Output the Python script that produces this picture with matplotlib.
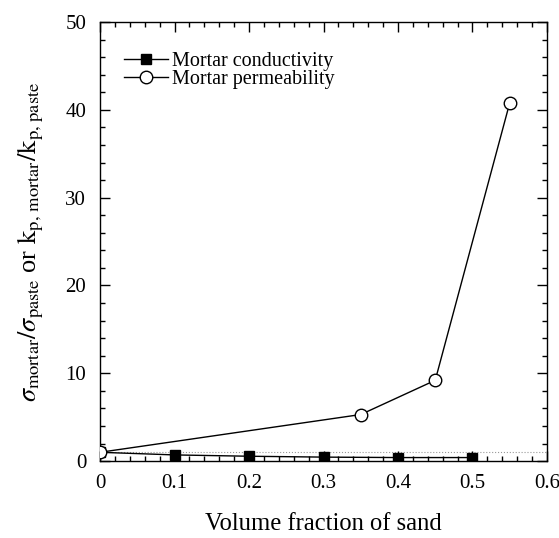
import matplotlib
matplotlib.use("Agg")
import matplotlib.pyplot as plt
from matplotlib.ticker import MultipleLocator

plt.rcParams['font.family'] = ['Liberation Serif', 'DejaVu Serif']
plt.rcParams['mathtext.fontset'] = 'stix'

# Normalised transport properties of mortar vs sand volume fraction
sand_cond = [0.0, 0.1, 0.2, 0.3, 0.4, 0.5]
conductivity = [1.0, 0.7, 0.55, 0.45, 0.4, 0.4]

sand_perm = [0.0, 0.35, 0.45, 0.55]
permeability = [1.0, 5.3, 9.2, 40.8]

fig = plt.figure(figsize=(5.59, 5.38), dpi=100)
ax = fig.add_axes([0.179, 0.143, 0.7995, 0.816])

# unity reference level
ax.axhline(1.0, color='#999999', lw=0.8, ls=':', zorder=1)

ax.plot(sand_cond, conductivity, '-', color='black', lw=1.0,
        marker='s', markersize=7, markerfacecolor='black',
        markeredgecolor='black', label='Mortar conductivity', zorder=3)
ax.plot(sand_perm, permeability, '-', color='black', lw=1.0,
        marker='o', markersize=9, markerfacecolor='white',
        markeredgecolor='black', markeredgewidth=1.0,
        label='Mortar permeability', zorder=4)

ax.set_xlim(0, 0.6)
ax.set_ylim(0, 50)
ax.xaxis.set_major_locator(MultipleLocator(0.1))
ax.xaxis.set_minor_locator(MultipleLocator(0.02))
ax.yaxis.set_major_locator(MultipleLocator(10))
ax.yaxis.set_minor_locator(MultipleLocator(2))
ax.set_xticks([0, 0.1, 0.2, 0.3, 0.4, 0.5, 0.6])
ax.set_xticklabels(['0', '0.1', '0.2', '0.3', '0.4', '0.5', '0.6'])

ax.tick_params(which='both', direction='in', top=True, right=True,
               labelsize=15, width=1.0)
ax.tick_params(axis='x', which='major', length=7, pad=9)
ax.tick_params(axis='y', which='major', length=7, pad=10)
ax.tick_params(which='minor', length=3.5)
for sp in ax.spines.values():
    sp.set_linewidth(1.0)

ax.set_xlabel('Volume fraction of sand', fontsize=17.7, labelpad=15)
ax.set_ylabel(r'$\sigma_{\mathrm{mortar}}/\sigma_{\mathrm{paste}}$ or '
              r'$\mathrm{k}_{\mathrm{p,\,mortar}}/\mathrm{k}_{\mathrm{p,\,paste}}$',
              fontsize=19, labelpad=14)

ax.legend(loc='upper left', bbox_to_anchor=(0.035, 0.95), frameon=False,
          fontsize=14.5, handlelength=2.2, handletextpad=0.2,
          labelspacing=-0.05, borderaxespad=0.0)

fig.savefig('out.png', dpi=100)
